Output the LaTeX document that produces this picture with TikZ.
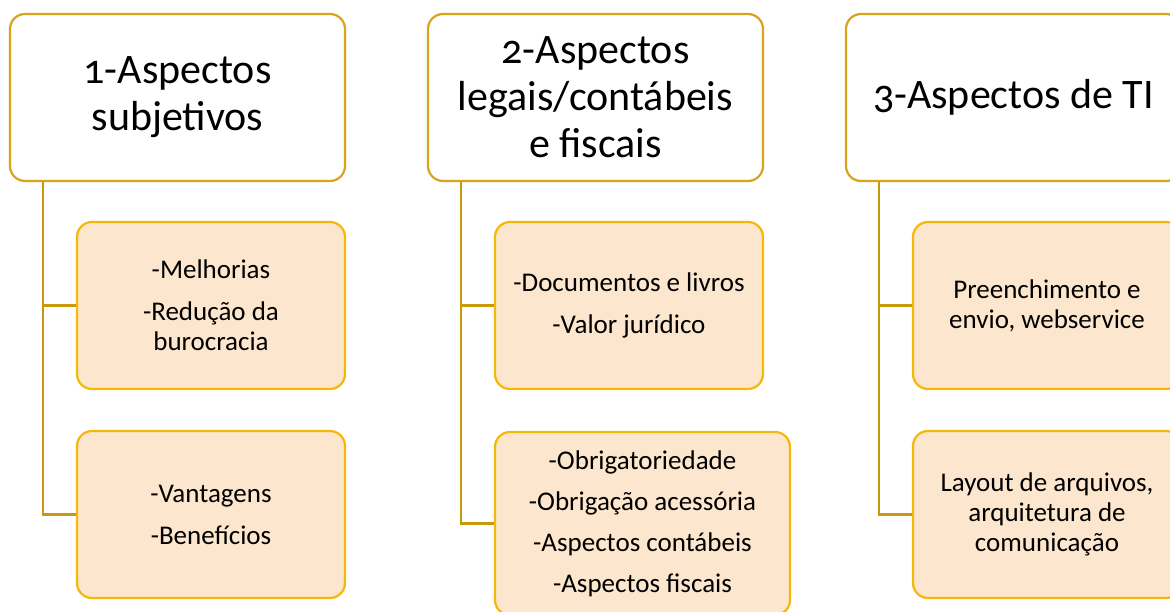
\documentclass[tikz,border=0pt]{standalone}
\usepackage{fontspec}
\setmainfont[Numbers=OldStyle]{Carlito}
\usetikzlibrary{positioning}

\definecolor{goldline}{HTML}{D9A31A}
\definecolor{subline}{HTML}{F5B80A}
\definecolor{linkline}{HTML}{C9990C}
\definecolor{subfill}{HTML}{FCE6CD}

\begin{document}
\begin{tikzpicture}[
		x=1pt, y=-1pt,
		topbox/.style={draw=goldline, line width=2.2pt, fill=white, rounded corners=15pt,
			minimum width=335pt, minimum height=167pt, align=center,
			font=\fontsize{42}{47}\selectfont},
		subbox/.style={draw=subline, line width=2.2pt, fill=subfill, rounded corners=15pt,
			minimum width=268pt, minimum height=167pt, align=center,
			font=\fontsize{27}{30}\selectfont},
		link/.style={draw=linkline, line width=2.2pt},
	]
	\clip (0,0) rectangle (1170,612);
	\fill[white] (0,0) rectangle (1170,612);

	% top row
	\node[topbox] (top1) at (177.5,97.5) {1-Aspectos\\subjetivos};
	\node[topbox] (top2) at (595.5,97.5) {2-Aspectos\\legais/contábeis\\e fiscais};
	\node[topbox] (top3) at (1013.5,97.5) {3-Aspectos de TI};

	% sub boxes
	\node[subbox] (sub1a) at (211,305.5) {-Melhorias\\[12pt]-Redução da\\burocracia};
	\node[subbox] (sub1b) at (211,514.5) {-Vantagens\\[12pt]-Benefícios};
	\node[subbox] (sub2a) at (629,305.5) {-Documentos e livros\\[12pt]-Valor jurídico};
	\node[subbox, minimum width=295pt, minimum height=183pt] (sub2b) at (642.5,523.5)
		{-Obrigatoriedade\\[11pt]-Obrigação acessória\\[11pt]-Aspectos contábeis\\[11pt]-Aspectos fiscais};
	\node[subbox] (sub3a) at (1047,305.5) {Preenchimento e\\envio, webservice};
	\node[subbox] (sub3b) at (1047,514.5) {Layout de arquivos,\\arquitetura de\\comunicação};

	% connectors
	\coordinate (c1) at ([xshift=34pt]top1.south west);
	\coordinate (c2) at ([xshift=34pt]top2.south west);
	\coordinate (c3) at ([xshift=34pt]top3.south west);
	\draw[link] (c1) |- (sub1a.west);
	\draw[link] (c1) |- (sub1b.west);
	\draw[link] (c2) |- (sub2a.west);
	\draw[link] (c2) |- (sub2b.west);
	\draw[link] (c3) |- (sub3a.west);
	\draw[link] (c3) |- (sub3b.west);
\end{tikzpicture}
\end{document}
